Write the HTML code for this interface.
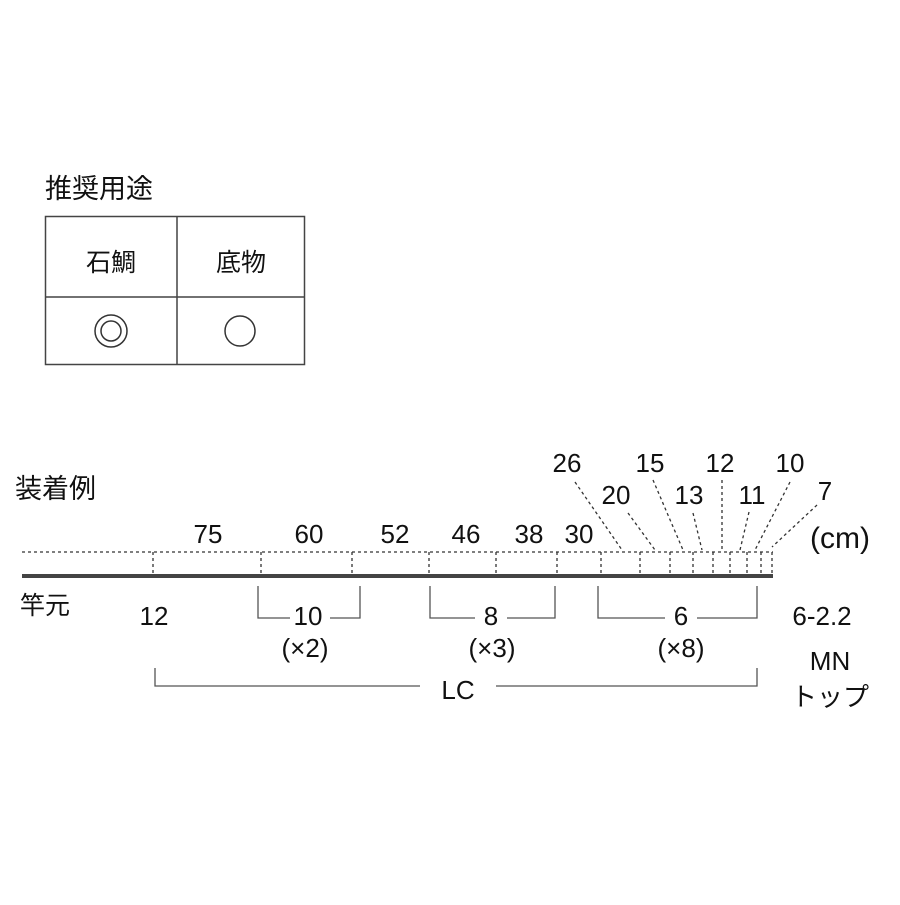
<!DOCTYPE html>
<html><head><meta charset="utf-8"><style>
body{margin:0;background:#fff;}
svg text{font-family:"Liberation Sans","Noto Sans CJK JP",sans-serif;fill:#111;}
</style></head><body>
<svg width="900" height="900" viewBox="0 0 900 900" xmlns="http://www.w3.org/2000/svg">
<text x="45" y="198" font-size="27">推奨用途</text>
<rect x="45.5" y="216.5" width="259" height="148" fill="none" stroke="#444" stroke-width="1.5"/>
<line x1="177" y1="216" x2="177" y2="365" stroke="#444" stroke-width="1.5"/>
<line x1="45" y1="297" x2="305" y2="297" stroke="#444" stroke-width="1.5"/>
<text x="111" y="271" font-size="25" text-anchor="middle">石鯛</text>
<text x="241" y="271" font-size="25" text-anchor="middle">底物</text>
<circle cx="111" cy="331" r="16" fill="none" stroke="#333" stroke-width="1.5"/>
<circle cx="111" cy="331" r="10" fill="none" stroke="#333" stroke-width="1.5"/>
<circle cx="240" cy="331" r="15" fill="none" stroke="#333" stroke-width="1.5"/>
<text x="15" y="498" font-size="27">装着例</text>
<text x="20" y="614" font-size="25">竿元</text>
<g stroke="#333" stroke-width="1.3" stroke-dasharray="3,3" fill="none">
<line x1="22" y1="552" x2="773" y2="552"/>
<path d="M153 552V575M261 552V575M352 552V575M429 552V575M496 552V575M557 552V575M601 552V575M640 552V575M670 552V575M693 552V575M713 552V575M730 552V575M747 552V575M761 552V575M772 552V575"/>
<path d="M575 482L622 550M628 513L655 550M653 480L683 550M693 513L702 550M722 480L722 552M749 512L740 550M790 482L755 550M817 505L772 547"/>
</g>
<line x1="22" y1="576" x2="773" y2="576" stroke="#444" stroke-width="4"/>
<g font-size="26" text-anchor="middle">
<text x="208" y="543">75</text><text x="309" y="543">60</text><text x="395" y="543">52</text>
<text x="466" y="543">46</text><text x="529" y="543">38</text><text x="579" y="543">30</text>
<text x="567" y="472">26</text><text x="616" y="504">20</text><text x="650" y="472">15</text>
<text x="689" y="504">13</text><text x="720" y="472">12</text><text x="752" y="504">11</text>
<text x="790" y="472">10</text><text x="825" y="500">7</text>
<text x="840" y="548" font-size="30">(cm)</text>
<text x="154" y="625">12</text>
<text x="308" y="625">10</text><text x="305" y="657">(×2)</text>
<text x="491" y="625">8</text><text x="492" y="657">(×3)</text>
<text x="681" y="625">6</text><text x="681" y="657">(×8)</text>
<text x="458" y="699">LC</text>
<text x="822" y="625">6-2.2</text>
<text x="830" y="670">MN</text>
<text x="830" y="706">トップ</text>
</g>
<g stroke="#555" stroke-width="1.3" fill="none">
<path d="M258 586V618H290M330 618H360V586"/>
<path d="M430 586V618H475M507 618H555V586"/>
<path d="M598 586V618H665M697 618H757V586"/>
<path d="M155 668V686H420M496 686H757V668"/>
</g>
</svg>
</body></html>
